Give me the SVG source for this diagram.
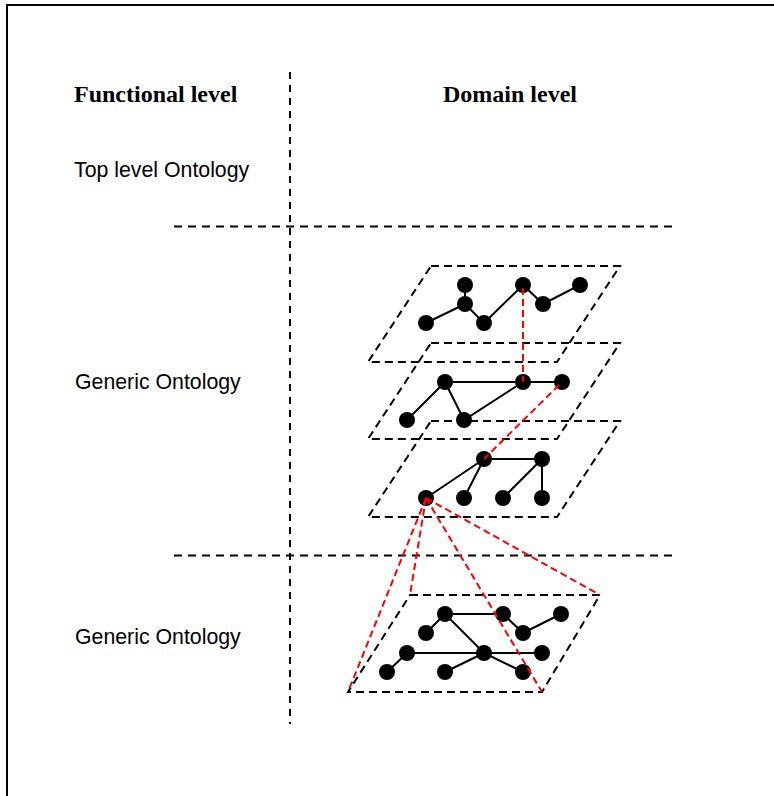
<svg xmlns="http://www.w3.org/2000/svg" width="774" height="796" viewBox="0 0 774 796">
  <style>
    .frame { fill: none; stroke: #000; stroke-width: 2; }
    .divider { fill: none; stroke: #000; stroke-width: 2; stroke-dasharray: 8 6; }
    .vdivider { fill: none; stroke: #000; stroke-width: 2; stroke-dasharray: 7 6; }
    .plane { fill: none; stroke: #000; stroke-width: 2; stroke-dasharray: 8 5; }
    .edge { stroke: #000; stroke-width: 2; fill: none; }
    .map { stroke: #ff0000; stroke-width: 2; stroke-dasharray: 7 4; fill: none; }
    .node { fill: #000; }
    .head { font-family: "Liberation Serif", "Times New Roman", serif; font-weight: bold; font-size: 24px; fill: #000; }
    .label { font-family: "Liberation Sans", Arial, sans-serif; font-size: 21.3px; fill: #000; }
  </style>

  <rect x="0" y="0" width="774" height="796" fill="#fff"/>
  <path class="frame" d="M7,800 V5 H780"/>

  <!-- column and row separators -->
  <g id="separators">
    <line class="vdivider" x1="290" y1="72" x2="290" y2="724"/>
    <line class="divider" x1="174" y1="226.5" x2="672" y2="226.5"/>
    <line class="divider" x1="174" y1="555.5" x2="672" y2="555.5"/>
  </g>

  <!-- headings and level labels -->
  <g id="heading-functional"><text class="head" x="74" y="102">Functional level</text></g>
  <g id="heading-domain"><text class="head" x="443" y="102">Domain level</text></g>
  <g id="label-top"><text class="label" x="74" y="177">Top level Ontology</text></g>
  <g id="label-generic-1"><text class="label" x="75" y="389">Generic Ontology</text></g>
  <g id="label-generic-2"><text class="label" x="75" y="644">Generic Ontology</text></g>

  <!-- layer planes -->
  <g id="plane-1"><path class="plane" d="M431,266 H620 L557,362 H368 Z"/></g>
  <g id="plane-2"><path class="plane" d="M431,343 H620 L557,439 H368 Z"/></g>
  <g id="plane-3"><path class="plane" d="M431,421 H620 L557,517 H368 Z"/></g>
  <g id="plane-4"><path class="plane" d="M410,595 H600 L542,692 H348 Z"/></g>

  <!-- graph edges within each layer -->
  <g id="connectors">
    <!-- plane 1 -->
    <path class="edge" d="M465,285 V304 M426,323 L465,304 L484,323 L523,285 L543,304 L580,285"/>
    <!-- plane 2 -->
    <path class="edge" d="M445,382 H562 M445,382 L407,420 M445,382 L464,420 L523,382"/>
    <!-- plane 3 -->
    <path class="edge" d="M484,459 H542 V498 M484,459 L426,498 M484,459 L464,498 M542,459 L503,498"/>
    <!-- plane 4 -->
    <path class="edge" d="M445,614 H503 L523,633 L561,614 M445,614 L426,633 M445,614 L484,653 M407,653 H542 M407,653 L387,672 M484,653 L445,672 M484,653 L523,672"/>
  </g>

  <!-- graph nodes -->
  <g id="nodes-plane-1">
    <circle class="node" cx="465" cy="285" r="8"/>
    <circle class="node" cx="465" cy="304" r="8"/>
    <circle class="node" cx="426" cy="323" r="8"/>
    <circle class="node" cx="484" cy="323" r="8"/>
    <circle class="node" cx="523" cy="285" r="8"/>
    <circle class="node" cx="543" cy="304" r="8"/>
    <circle class="node" cx="580" cy="285" r="8"/>
  </g>
  <g id="nodes-plane-2">
    <circle class="node" cx="445" cy="382" r="8"/>
    <circle class="node" cx="523" cy="382" r="8"/>
    <circle class="node" cx="562" cy="382" r="8"/>
    <circle class="node" cx="407" cy="420" r="8"/>
    <circle class="node" cx="464" cy="420" r="8"/>
  </g>
  <g id="nodes-plane-3">
    <circle class="node" cx="484" cy="459" r="8"/>
    <circle class="node" cx="542" cy="459" r="8"/>
    <circle class="node" cx="426" cy="498" r="8"/>
    <circle class="node" cx="464" cy="498" r="8"/>
    <circle class="node" cx="503" cy="498" r="8"/>
    <circle class="node" cx="542" cy="498" r="8"/>
  </g>
  <g id="nodes-plane-4">
    <circle class="node" cx="445" cy="614" r="8"/>
    <circle class="node" cx="503" cy="614" r="8"/>
    <circle class="node" cx="561" cy="614" r="8"/>
    <circle class="node" cx="426" cy="633" r="8"/>
    <circle class="node" cx="523" cy="633" r="8"/>
    <circle class="node" cx="407" cy="653" r="8"/>
    <circle class="node" cx="484" cy="653" r="8"/>
    <circle class="node" cx="542" cy="653" r="8"/>
    <circle class="node" cx="387" cy="672" r="8"/>
    <circle class="node" cx="445" cy="672" r="8"/>
    <circle class="node" cx="523" cy="672" r="8"/>
  </g>

  <!-- red mapping lines between layers, drawn over the nodes -->
  <g id="mappings">
    <line class="map" x1="523" y1="288" x2="523" y2="382"/>
    <line class="map" x1="559" y1="385" x2="484" y2="459"/>
    <line class="map" x1="426" y1="498" x2="348" y2="692"/>
    <line class="map" x1="426" y1="498" x2="410" y2="595"/>
    <line class="map" x1="426" y1="498" x2="542" y2="692"/>
    <line class="map" x1="426" y1="498" x2="600" y2="595"/>
  </g>
</svg>
